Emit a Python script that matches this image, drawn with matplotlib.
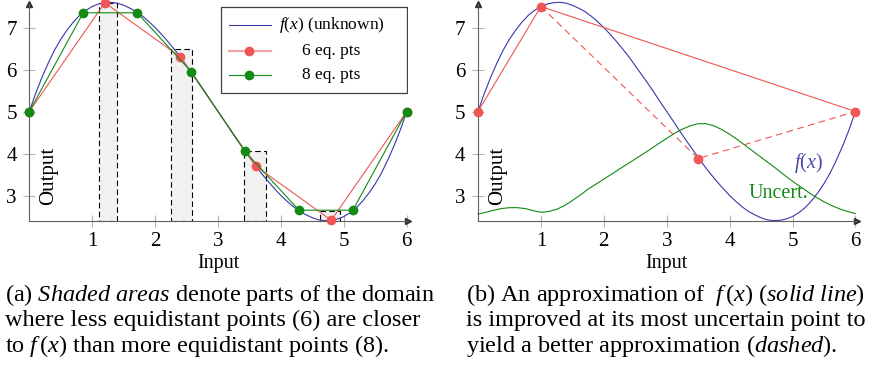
import numpy as np
import matplotlib
matplotlib.use('Agg')
import matplotlib.pyplot as plt
from matplotlib.patches import Rectangle

plt.rcParams['font.family'] = ['Liberation Serif', 'DejaVu Serif']
plt.rcParams['mathtext.fontset'] = 'custom'
plt.rcParams['mathtext.rm'] = 'Liberation Serif'
plt.rcParams['mathtext.it'] = 'Liberation Serif:italic'

# the unknown function, sampled every 0.1
f_x = np.linspace(0, 6, 61)
f_y = [5.00, 5.43, 5.81, 6.15, 6.46, 6.72, 6.94, 7.13, 7.29, 7.41,
       7.50, 7.56, 7.59, 7.60, 7.58, 7.53, 7.46, 7.38, 7.27, 7.14,
       7.00, 6.84, 6.67, 6.49, 6.30, 6.09, 5.88, 5.67, 5.45, 5.22,
       5.00, 4.78, 4.55, 4.33, 4.12, 3.91, 3.70, 3.51, 3.33, 3.16,
       3.00, 2.86, 2.73, 2.62, 2.54, 2.47, 2.42, 2.40, 2.41, 2.44,
       2.50, 2.59, 2.71, 2.87, 3.06, 3.28, 3.54, 3.85, 4.19, 4.57, 5.00]

# equidistant samples
pts6_x = [0, 1.2, 2.4, 3.6, 4.8, 6]
pts6_y = [5.00, 7.59, 6.30, 3.70, 2.41, 5.00]
pts8_x = [0, 0.857, 1.714, 2.571, 3.429, 4.286, 5.143, 6]
pts8_y = [5.00, 7.35, 7.35, 5.95, 4.05, 2.65, 2.65, 5.00]

# shaded regions where 6 points beat 8 points
box_lo = [1.11, 2.25, 3.41, 4.62]
box_hi = [1.39, 2.58, 3.76, 4.94]
box_top = [7.59, 6.49, 4.07, 2.64]

# right panel: approximation and its refinement
approx_x = [0, 1, 6]
approx_y = [5.00, 7.50, 5.00]
better_x = [1, 3.5, 6]
better_y = [7.50, 3.88, 5.00]

unc_x = np.linspace(0, 6, 49)
unc_y = [2.56, 2.60, 2.65, 2.69, 2.71, 2.71, 2.69, 2.64, 2.60, 2.62,
         2.67, 2.76, 2.88, 3.01, 3.15, 3.27, 3.39, 3.51, 3.63, 3.75,
         3.87, 3.99, 4.11, 4.24, 4.36, 4.48, 4.58, 4.66, 4.71, 4.71,
         4.66, 4.57, 4.46, 4.33, 4.19, 4.05, 3.91, 3.77, 3.63, 3.48,
         3.34, 3.21, 3.08, 2.96, 2.85, 2.76, 2.68, 2.62, 2.57]

BLUE = '#3838aa'
RED = '#f05656'
GREEN = '#138a13'
Y0 = 2.4

fig = plt.figure(figsize=(8.86, 3.70), dpi=100)
ax1 = fig.add_axes([0.0331, 0.4035, 0.4274, 0.5846])
ax2 = fig.add_axes([0.5395, 0.4035, 0.4274, 0.5846])

for ax in (ax1, ax2):
    ax.set_xlim(0, 6.02)
    ax.set_ylim(Y0, 7.55)
    for s in ('top', 'right'):
        ax.spines[s].set_visible(False)
    for s in ('left', 'bottom'):
        ax.spines[s].set_color('#606060')
        ax.spines[s].set_linewidth(0.8)
    ax.set_xticks([1, 2, 3, 4, 5, 6])
    ax.set_yticks([3, 4, 5, 6, 7])
    ax.tick_params(direction='inout', length=8, width=0.8, color='#b4b4b4',
                   labelsize=15, pad=4)
    ax.tick_params(axis='y', pad=5)
    ax.plot(1, 0, '>', color='#303030', ms=4, transform=ax.transAxes, clip_on=False)
    ax.plot(0, 1, '^', color='#303030', ms=4, transform=ax.transAxes, clip_on=False)
    ax.text(0.31, 3.47, 'Output', rotation=90, ha='center', va='center', fontsize=15)
    ax.text(3, 1.39, 'Input', ha='center', va='center', fontsize=14.5)

# left panel
for lo, hi, top in zip(box_lo, box_hi, box_top):
    ax1.add_patch(Rectangle((lo, Y0), hi - lo, top - Y0, facecolor='#f1f1f1',
                            edgecolor='black', lw=0.8, ls=(0, (5, 3)),
                            clip_on=False, zorder=1))
ax1.plot(f_x, f_y, color=BLUE, lw=0.8, clip_on=False, zorder=2)
ax1.plot(pts6_x, pts6_y, color=RED, lw=0.8, marker='o', ms=6, mec=RED,
         clip_on=False, zorder=3)
ax1.plot(pts8_x, pts8_y, color=GREEN, lw=0.8, marker='o', ms=6, mec=GREEN,
         clip_on=False, zorder=4)

# legend box
T = ax1.transAxes
ax1.add_patch(Rectangle((0.5055, 0.5918), 0.4921, 0.3948, transform=T,
                        facecolor='white', edgecolor='#404040', lw=0.9, zorder=6))
rows = [0.9049, 0.7860, 0.6736]
ax1.plot([0.5262, 0.6372], [rows[0]] * 2, color=BLUE, lw=0.8, transform=T, zorder=7)
ax1.plot([0.5262, 0.6372], [rows[1]] * 2, color='#f4a4a4', lw=1.6, transform=T, zorder=7)
ax1.plot([0.5804], [rows[1]], 'o', color=RED, ms=6, transform=T, zorder=8)
ax1.plot([0.5262, 0.6372], [rows[2]] * 2, color=GREEN, lw=0.8, transform=T, zorder=7)
ax1.plot([0.5804], [rows[2]], 'o', color=GREEN, ms=6, transform=T, zorder=8)
for y, label in zip(rows, ['$f(x)$ (unknown)', '6 eq. pts', '8 eq. pts']):
    ax1.text(0.7982, y, label, transform=T, ha='center', va='center',
             fontsize=12.5, zorder=8)

# right panel
ax2.plot(f_x, f_y, color=BLUE, lw=0.8, clip_on=False, zorder=2)
ax2.plot(unc_x, unc_y, color=GREEN, lw=0.8, clip_on=False, zorder=2)
ax2.plot(approx_x, approx_y, color=RED, lw=0.8, clip_on=False, zorder=3)
ax2.plot(better_x, better_y, color=RED, lw=0.8, ls=(0, (6, 4)), clip_on=False, zorder=3)
ax2.plot(approx_x + better_x[1:2], approx_y + better_y[1:2], 'o', color=RED,
         ms=6, clip_on=False, zorder=4)
ax2.text(5.26, 3.78, '$f(x)$', color='#4747b0', ha='center', va='center', fontsize=14.5)
ax2.text(4.78, 3.04, 'Uncert.', color=GREEN, ha='center', va='center', fontsize=14.5)

# captions
cap_a = [r'(a) $\mathit{Shaded\ areas}$ denote parts of the domain',
         'where less equidistant points (6) are closer',
         r'to $f\,(x)$ than more equidistant points (8).']
cap_b = [r'(b) An approximation of  $f\,(x)$ ($\mathit{solid\ line}$)',
         'is improved at its most uncertain point to',
         r'yield a better approximation ($\mathit{dashed}$).']
for i, y in enumerate([0.1873, 0.1184, 0.0495]):
    fig.text(0.0056, y, cap_a[i], fontsize=17.5, va='baseline')
    fig.text(0.526, y, cap_b[i], fontsize=17.5, va='baseline')

fig.savefig('out.png', dpi=100)
